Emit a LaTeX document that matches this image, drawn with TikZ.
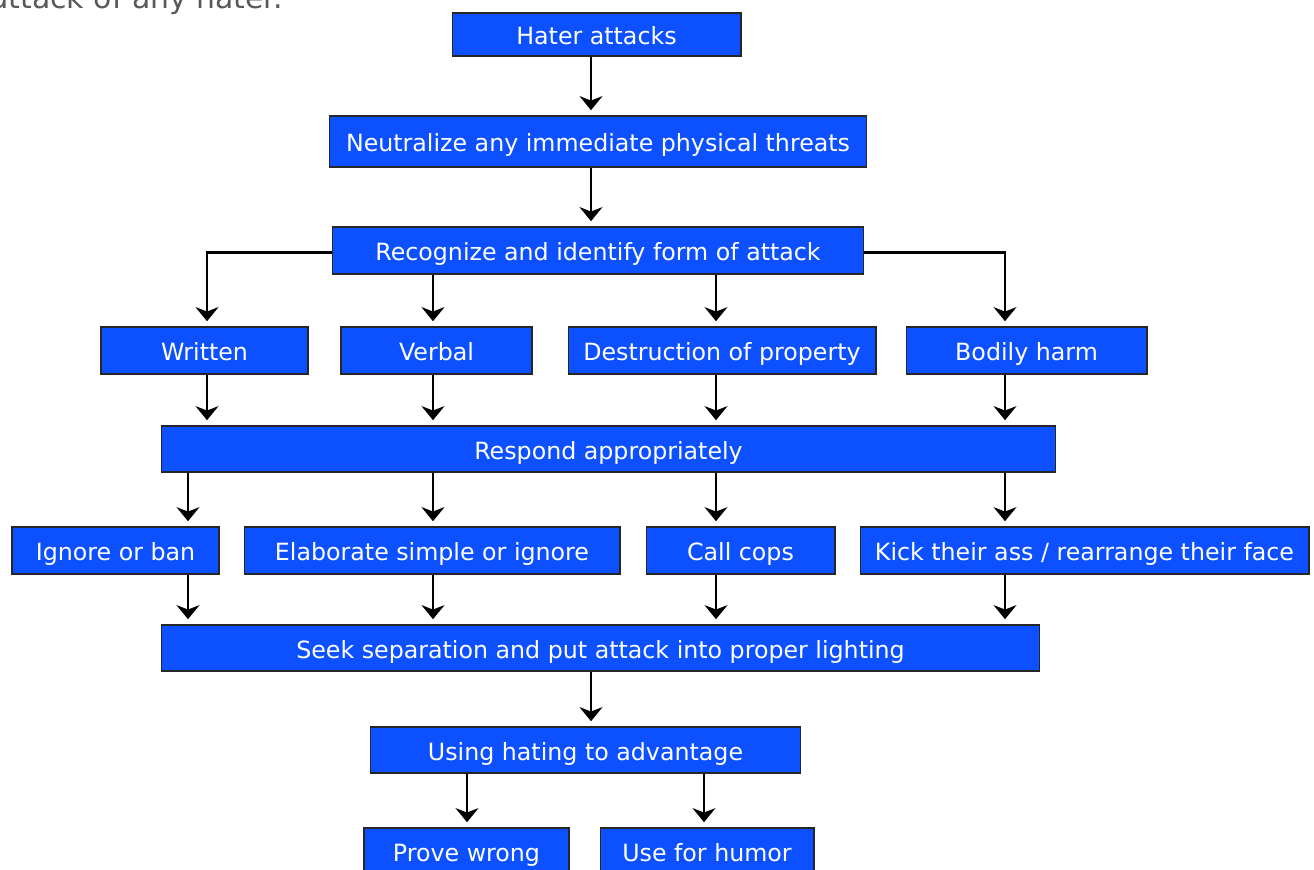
\documentclass[tikz,border=0pt]{standalone}
\usepackage{fontspec}
\setmainfont{DejaVu Sans}
\usetikzlibrary{arrows.meta}
\definecolor{hblue}{RGB}{12,80,255}

\begin{document}
\begin{tikzpicture}[x=0.02cm,y=-0.02cm,
 box/.style={draw=black!85,line width=0.6pt,fill=hblue,text=white,inner sep=0pt,minimum height=0.94cm,text height=11.5pt,text depth=0pt,font=\fontsize{13.5}{16}\selectfont},
 arr/.style={line width=1.4pt,-{Stealth[length=8pt,width=13pt,inset=2.5pt]},shorten >=3pt}]
 \useasboundingbox (0,0) rectangle (1314,869); %画像の範囲
 \node[anchor=base east,text=black!65,font=\fontsize{17}{19}\selectfont] (top) at (289,8) {attack of any hater.}; %上の文
 \node[box,minimum width=5.78cm,minimum height=0.86cm] (hater) at (596.5,34.5) {Hater attacks};
 \node[box,minimum width=10.76cm,minimum height=1.02cm] (neut) at (598,141.5) {Neutralize any immediate physical threats};
 \node[box,minimum width=10.64cm] (recog) at (598,250.5) {Recognize and identify form of attack};
 \node[box,minimum width=4.14cm] (written) at (204.5,350.5) {Written};
 \node[box,minimum width=3.82cm] (verbal) at (436.5,350.5) {Verbal};
 \node[box,minimum width=6.16cm] (destr) at (722,350.5) {Destruction of property};
 \node[box,minimum width=4.82cm] (bodily) at (1026.5,350.5) {Bodily harm};
 \node[box,minimum width=17.9cm,minimum height=0.92cm] (respond) at (608.5,449) {Respond appropriately};
 \node[box,minimum width=4.14cm] (ignore) at (115.5,550.5) {Ignore or ban};
 \node[box,minimum width=7.52cm] (elab) at (432,550.5) {Elaborate simple or ignore};
 \node[box,minimum width=3.78cm] (cops) at (740.5,550.5) {Call cops};
 \node[box,minimum width=8.98cm] (kick) at (1084.5,550.5) {Kick their ass / rearrange their face};
 \node[box,minimum width=17.58cm,minimum height=0.92cm] (seek) at (600.5,648) {Seek separation and put attack into proper lighting};
 \node[box,minimum width=8.62cm,minimum height=0.92cm] (using) at (585.5,750) {Using hating to advantage};
 \node[box,minimum width=4.1cm] (prove) at (466.5,851.5) {Prove wrong};
 \node[box,minimum width=4.28cm] (humor) at (707,851.5) {Use for humor};
 \coordinate (cA) at (207,0); %矢印の列
 \coordinate (cB) at (433,0);
 \coordinate (cC) at (716,0);
 \coordinate (cD) at (1005,0);
 \coordinate (cE) at (188,0);
 \coordinate (cM) at (591,0);
 \coordinate (cP) at (467,0);
 \coordinate (cH) at (704,0);
 \draw[arr] (hater.south -| cM)--(neut.north -| cM);
 \draw[arr] (neut.south -| cM)--(recog.north -| cM);
 \draw[arr] ([yshift=-1.2pt]recog.west) -| (written.north -| cA); %左へ
 \draw[arr] (recog.south -| cB)--(verbal.north -| cB);
 \draw[arr] (recog.south -| cC)--(destr.north -| cC);
 \draw[arr] ([yshift=-1.2pt]recog.east) -| (bodily.north -| cD); %右へ
 \draw[arr] (written.south -| cA)--(respond.north -| cA);
 \draw[arr] (verbal.south -| cB)--(respond.north -| cB);
 \draw[arr] (destr.south -| cC)--(respond.north -| cC);
 \draw[arr] (bodily.south -| cD)--(respond.north -| cD);
 \draw[arr] (respond.south -| cE)--(ignore.north -| cE);
 \draw[arr] (respond.south -| cB)--(elab.north -| cB);
 \draw[arr] (respond.south -| cC)--(cops.north -| cC);
 \draw[arr] (respond.south -| cD)--(kick.north -| cD);
 \draw[arr] (ignore.south -| cE)--(seek.north -| cE);
 \draw[arr] (elab.south -| cB)--(seek.north -| cB);
 \draw[arr] (cops.south -| cC)--(seek.north -| cC);
 \draw[arr] (kick.south -| cD)--(seek.north -| cD);
 \draw[arr] (seek.south -| cM)--(using.north -| cM);
 \draw[arr] (using.south -| cP)--(prove.north -| cP);
 \draw[arr] (using.south -| cH)--(humor.north -| cH);
\end{tikzpicture}
\end{document}
